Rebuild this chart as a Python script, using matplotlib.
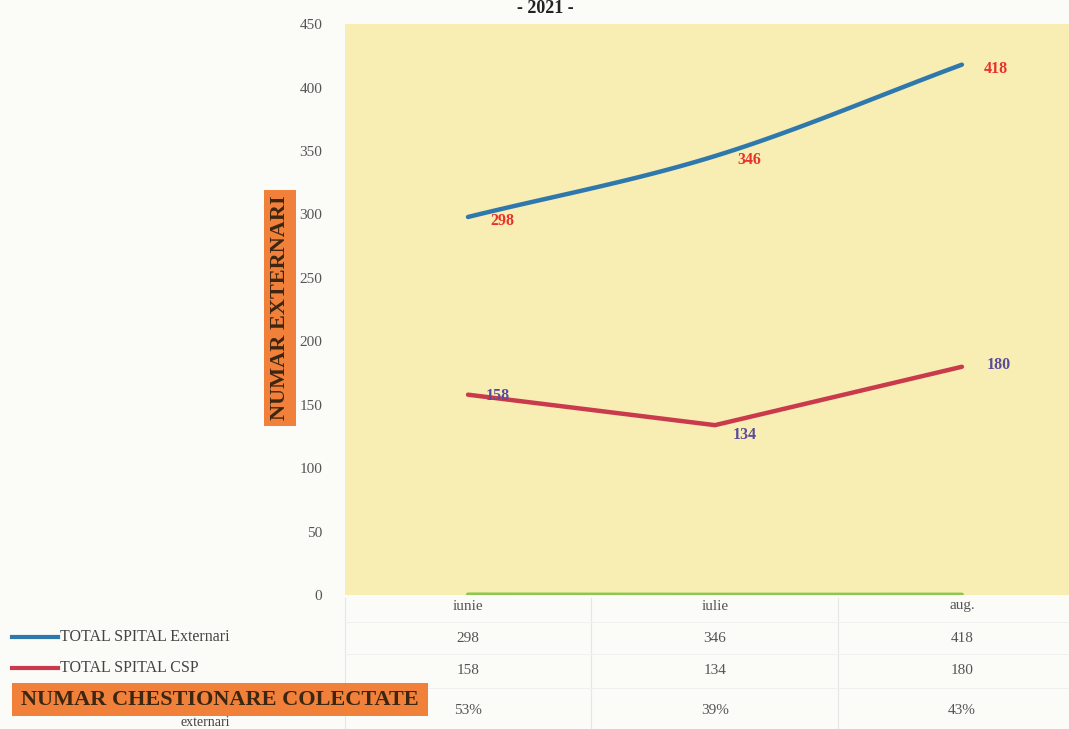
import numpy as np
import matplotlib
matplotlib.use("Agg")
import matplotlib.pyplot as plt
from matplotlib.transforms import blended_transform_factory

luni = ["iunie", "iulie", "aug."]
externari = [298, 346, 418]
csp = [158, 134, 180]
chestionare = [0.53, 0.39, 0.43]
chestionare_txt = ["53%", "39%", "43%"]

plt.rcParams["font.family"] = ["Liberation Serif", "DejaVu Serif"]


def netezire(y, n=40):
    # curba neteda prin puncte (Catmull-Rom), ca linia "smoothed" din Excel
    x = np.arange(len(y), dtype=float)
    p = np.array(y, dtype=float)
    xs, ys = [], []
    for i in range(len(p) - 1):
        p0 = p[i - 1] if i > 0 else 2 * p[i] - p[i + 1]
        p3 = p[i + 2] if i + 2 < len(p) else 2 * p[i + 1] - p[i]
        p1, p2 = p[i], p[i + 1]
        t = np.linspace(0, 1, n)
        yy = 0.5 * ((2 * p1) + (-p0 + p2) * t + (2 * p0 - 5 * p1 + 4 * p2 - p3) * t ** 2
                    + (-p0 + 3 * p1 - 3 * p2 + p3) * t ** 3)
        xs.append(x[i] + t)
        ys.append(yy)
    return np.concatenate(xs), np.concatenate(ys)


fig = plt.figure(figsize=(10.69, 7.29), dpi=100)
fig.patch.set_facecolor("#fbfbf8")

ax = fig.add_axes([0.3223, 0.1835, 0.693, 0.7835])
ax.set_facecolor("#f8edb2")
x = np.arange(len(luni))

xs, ys = netezire(externari)
ax.plot(xs, ys, color="#2f78ad", lw=3.2, solid_capstyle="round")
ax.plot(x, csp, color="#c93a4c", lw=3.2, solid_capstyle="round")
ax.plot(x, chestionare, color="#8cc84e", lw=3, solid_capstyle="round")

ax.set_xlim(-0.5, 2.5)
ax.set_ylim(0, 450)
ax.set_yticks(range(0, 451, 50))
ax.set_xticks([])
for s in ax.spines.values():
    s.set_visible(False)
ax.tick_params(axis="y", length=0, pad=16, labelsize=11, labelcolor="#555555")

# etichete de valoare
for xi, v in zip(x, externari):
    ax.annotate(str(v), (xi, v), xytext=(16, -3), textcoords="offset points",
                color="#e8322c", fontsize=11.5, fontweight="bold", va="center")
for xi, v in zip(x, csp):
    ax.annotate(str(v), (xi, v), xytext=(13 if xi < 2 else 18, -1 if xi < 2 else 1),
                textcoords="offset points",
                color="#5a4c9c", fontsize=11.5, fontweight="bold",
                va="top" if xi == 1 else "center")

# titlu axa Y pe fundal portocaliu
fig.text(280 / 1069, 1 - 308 / 729, "NUMAR EXTERNARI", rotation=90, ha="center", va="center",
         fontsize=16, fontweight="bold", color="#3b2612",
         bbox=dict(boxstyle="square,pad=0.25", fc="#f0803a", ec="none"))

fig.text(545 / 1069, 1.0, "- 2021 -", ha="center", va="top",
         fontsize=13, fontweight="bold", color="#222222")

# tabelul de date de sub grafic
tr = blended_transform_factory(ax.transData, fig.transFigure)
rand_y = [606, 638, 670, 710]
randuri = [luni, [str(v) for v in externari], [str(v) for v in csp], chestionare_txt]
for yy, vals in zip(rand_y, randuri):
    for xi, t in zip(x, vals):
        ax.text(xi, 1 - yy / 729, t, transform=tr, ha="center", va="center",
                fontsize=11, color="#555555", clip_on=False)

for xb in [-0.5, 0.5, 1.5, 2.5]:
    ax.plot([xb, xb], [1 - 598 / 729, 1 - 728 / 729], transform=tr, color="#e6e6e6",
            lw=0.8, clip_on=False)
for yb in [622, 654, 688]:
    ax.plot([-0.5, 2.5], [1 - yb / 729] * 2, transform=tr, color="#f0f0f0",
            lw=0.7, clip_on=False)

# legenda in prima coloana a tabelului
fig.add_artist(plt.Line2D([12 / 1069, 58 / 1069], [1 - 637 / 729] * 2, color="#2f78ad", lw=3))
fig.text(60 / 1069, 1 - 637 / 729, "TOTAL SPITAL Externari", ha="left", va="center",
         fontsize=11.5, color="#444444")
fig.add_artist(plt.Line2D([12 / 1069, 58 / 1069], [1 - 668 / 729] * 2, color="#c93a4c", lw=3))
fig.text(60 / 1069, 1 - 668 / 729, "TOTAL SPITAL CSP", ha="left", va="center",
         fontsize=11.5, color="#444444")
fig.add_artist(plt.Rectangle((12 / 1069, 1 - 716 / 729), 416 / 1069, 33 / 729,
                             transform=fig.transFigure, fc="#f0803a", ec="none"))
fig.text(220 / 1069, 1 - 700 / 729, "NUMAR CHESTIONARE COLECTATE", ha="center", va="center",
         fontsize=16, fontweight="bold", color="#3b2612")
fig.text(205 / 1069, 1 - 723 / 729, "externari", ha="center", va="center",
         fontsize=10, color="#444444")

fig.savefig("out.png", dpi=100, facecolor=fig.get_facecolor())
